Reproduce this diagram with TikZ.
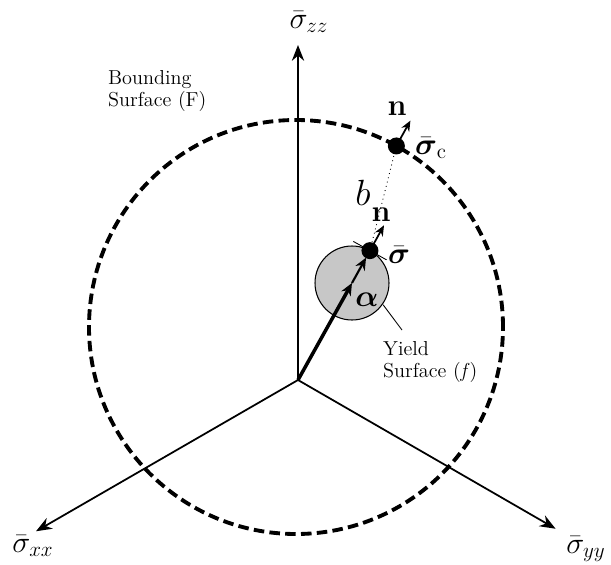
\documentclass[tikz,border=0pt]{standalone}
\usepackage{amsfonts,amsmath,amssymb}
\usepackage{xcolor}
\usepackage{tikz}
\usetikzlibrary{arrows.meta,calc}

\begin{document}
\begin{tikzpicture}[>=Stealth,
  axis/.style={-{Stealth[length=9pt,width=7pt]},line width=1pt},
  surftext/.style={align=left,anchor=west,font=\fontsize{11.5}{12.5}\selectfont}]
\useasboundingbox (-5.96,-3.68) rectangle (6.26,7.6);
% axes
\coordinate (O) at (0,0);
\coordinate (Zt) at (0,6.7);
\coordinate (Xt) at (210:6.05);
\coordinate (Yt) at (-30:5.95);
\draw[axis](O)--(Zt);
\draw[axis](O)--(Xt);
\draw[axis](O)--(Yt);
\node (zl) at (0.22,7.16) {\LARGE$\bar{\sigma}_{zz}$};
\node (xl) at (-5.3,-3.32) {\LARGE$\bar{\sigma}_{xx}$};
\node (yl) at (5.76,-3.38) {\LARGE$\bar{\sigma}_{yy}$};
% bounding and yield surfaces
\coordinate (F) at (-0.04,1.06);
\draw[line width=2.2pt,dash pattern=on 6pt off 3pt](F) circle (4.14);
\coordinate (C) at (1.08,1.94);
\draw[fill=black!22,line width=0.6pt](C) circle (0.74);
\coordinate (S) at ($(C)+(61:0.74)$);
\coordinate (Sc) at ($(F)+(61:4.14)$);
\draw[line width=0.5pt]($(S)+(-29:0.38)$)--($(S)+(151:0.38)$);
\draw[dotted,line width=0.5pt](S)--(Sc);
\draw[-{Stealth[length=7pt,width=6pt]},line width=2pt](O)--(C);
\draw[-{Stealth[length=7pt,width=6pt]},line width=1.2pt,shorten >=0.16cm](C)--(S);
\fill(S)circle(0.17) (Sc)circle(0.17);
% normals
\coordinate (Sn) at ($(S)+(61:0.58)$);
\coordinate (Scn) at ($(Sc)+(61:0.58)$);
\draw[-{Stealth[length=6pt,width=5pt]},line width=1pt](S)--(Sn);
\draw[-{Stealth[length=6pt,width=5pt]},line width=1pt](Sc)--(Scn);
\node[inner sep=1pt] (n1) at (1.66,3.3) {\LARGE$\mathbf{n}$};
\node[inner sep=1pt] (s1) at (2.02,2.5) {\LARGE$\bar{\boldsymbol{\sigma}}$};
\node[inner sep=1pt] (n2) at (1.98,5.42) {\LARGE$\mathbf{n}$};
\node[inner sep=1pt] (s2) at (2.66,4.64) {\LARGE$\bar{\boldsymbol{\sigma}}_{\mathrm{c}}$};
\node[inner sep=1pt] (bl) at (1.3,3.74) {\huge$b$};
\node[inner sep=1pt] (al) at (1.38,1.6) {\LARGE$\boldsymbol{\alpha}$};
% surface labels
\node[surftext] (Fl) at (-3.92,5.78) {Bounding\\Surface (F)};
\node[surftext] (fl) at (1.58,0.36) {Yield\\Surface (\textit{f})};
\coordinate (L1) at ($(C)+(-35:0.76)$);
\coordinate (L2) at (2.08,1.0);
\draw[line width=0.5pt](L1)--(L2);
\end{tikzpicture}
\end{document}
